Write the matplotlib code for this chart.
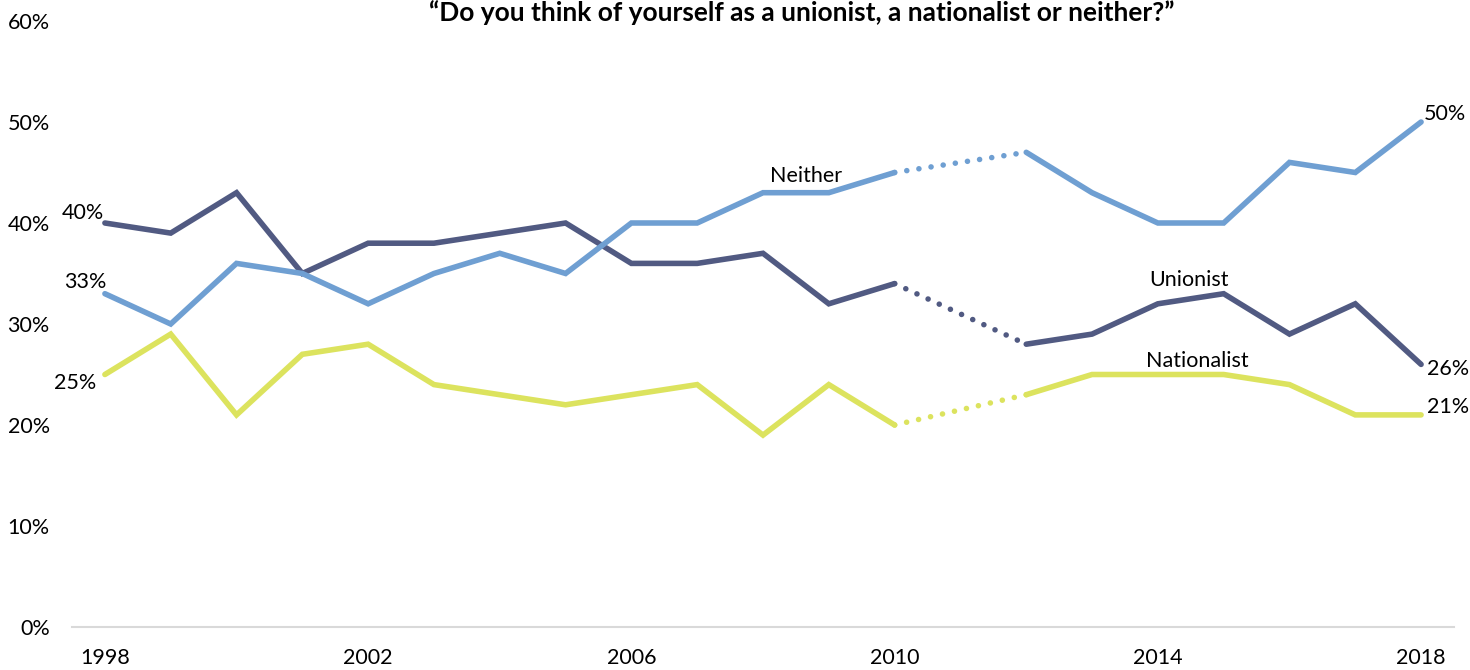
import numpy as np
import matplotlib.pyplot as plt

# data (no survey in 2011)
years = [1998, 1999, 2000, 2001, 2002, 2003, 2004, 2005, 2006, 2007, 2008, 2009, 2010,
         2012, 2013, 2014, 2015, 2016, 2017, 2018]
unionist = [40, 39, 43, 35, 38, 38, 39, 40, 36, 36, 37, 32, 34,
            28, 29, 32, 33, 29, 32, 26]
neither = [33, 30, 36, 35, 32, 35, 37, 35, 40, 40, 43, 43, 45,
           47, 43, 40, 40, 46, 45, 50]
nationalist = [25, 29, 21, 27, 28, 24, 23, 22, 23, 24, 19, 24, 20,
               23, 25, 25, 25, 24, 21, 21]
series_names = ["Unionist", "Neither", "Nationalist"]
xtick_years = [1998, 2002, 2006, 2010, 2014, 2018]
yticks = [0, 10, 20, 30, 40, 50, 60]

plt.rcParams['font.family'] = ['Lato', 'DejaVu Sans']

colors = {"Unionist": "#515a82", "Neither": "#6f9fd2", "Nationalist": "#dce35e"}
values = {"Unionist": unionist, "Neither": neither, "Nationalist": nationalist}

fig = plt.figure(figsize=(14.7, 6.7), dpi=100)
ax = fig.add_axes([72 / 1470, 1 - 627 / 670, (1454 - 72) / 1470, (627 - 21) / 670])

x = np.array(years)
gap = years.index(2010)
for name in series_names:
    y = np.array(values[name])
    c = colors[name]
    ax.plot(x[:gap + 1], y[:gap + 1], color=c, lw=4, solid_capstyle='round',
            solid_joinstyle='miter', zorder=3)
    ax.plot(x[gap:gap + 2], y[gap:gap + 2], color=c, lw=4,
            linestyle=(0, (0.01, 2.2)), dash_capstyle='round', zorder=3)
    ax.plot(x[gap + 1:], y[gap + 1:], color=c, lw=4, solid_capstyle='round',
            solid_joinstyle='miter', zorder=3)

fs = 15.5
# start / end labels
ax.annotate(f"{unionist[0]}%", (years[0], unionist[0]), xytext=(-1, 0),
            textcoords='offset points', ha='right', va='bottom', fontsize=fs)
ax.annotate(f"{neither[0]}%", (years[0], neither[0]), xytext=(1, 1),
            textcoords='offset points', ha='right', va='bottom', fontsize=fs)
ax.annotate(f"{nationalist[0]}%", (years[0], nationalist[0]), xytext=(-6, -6),
            textcoords='offset points', ha='right', va='center', fontsize=fs)
ax.annotate(f"{neither[-1]}%", (years[-1], neither[-1]), xytext=(2, 6),
            textcoords='offset points', ha='left', va='center', fontsize=fs)
ax.annotate(f"{unionist[-1]}%", (years[-1], unionist[-1]), xytext=(4, -3),
            textcoords='offset points', ha='left', va='center', fontsize=fs)
ax.annotate(f"{nationalist[-1]}%", (years[-1], nationalist[-1]), xytext=(4, 6),
            textcoords='offset points', ha='left', va='center', fontsize=fs)

# series names
ax.text(2008.65, 43.7, "Neither", ha='center', va='bottom', fontsize=fs)
ax.text(2014.47, 33.4, "Unionist", ha='center', va='bottom', fontsize=fs)
ax.text(2014.6, 25.3, "Nationalist", ha='center', va='bottom', fontsize=fs)

ax.set_xlim(1997.5, 2018.5)
ax.set_ylim(0, 60)
ax.set_xticks(xtick_years)
ax.set_xticklabels([str(v) for v in xtick_years], fontsize=fs)
ax.set_yticks(yticks)
ax.set_yticklabels([f"{v}%" for v in yticks], fontsize=fs)
ax.tick_params(axis='x', length=0, pad=15)
ax.tick_params(axis='y', length=0, pad=16)
for s in ['top', 'right', 'left']:
    ax.spines[s].set_visible(False)
ax.spines['bottom'].set_color('#d9d9d9')
ax.spines['bottom'].set_linewidth(1.5)

fig.text(802 / 1470, 1 - 13 / 670,
         "\u201cDo you think of yourself as a unionist, a nationalist or neither?\u201d",
         ha='center', va='center', fontsize=19, fontweight='bold')

fig.savefig("out.png", dpi=100)
